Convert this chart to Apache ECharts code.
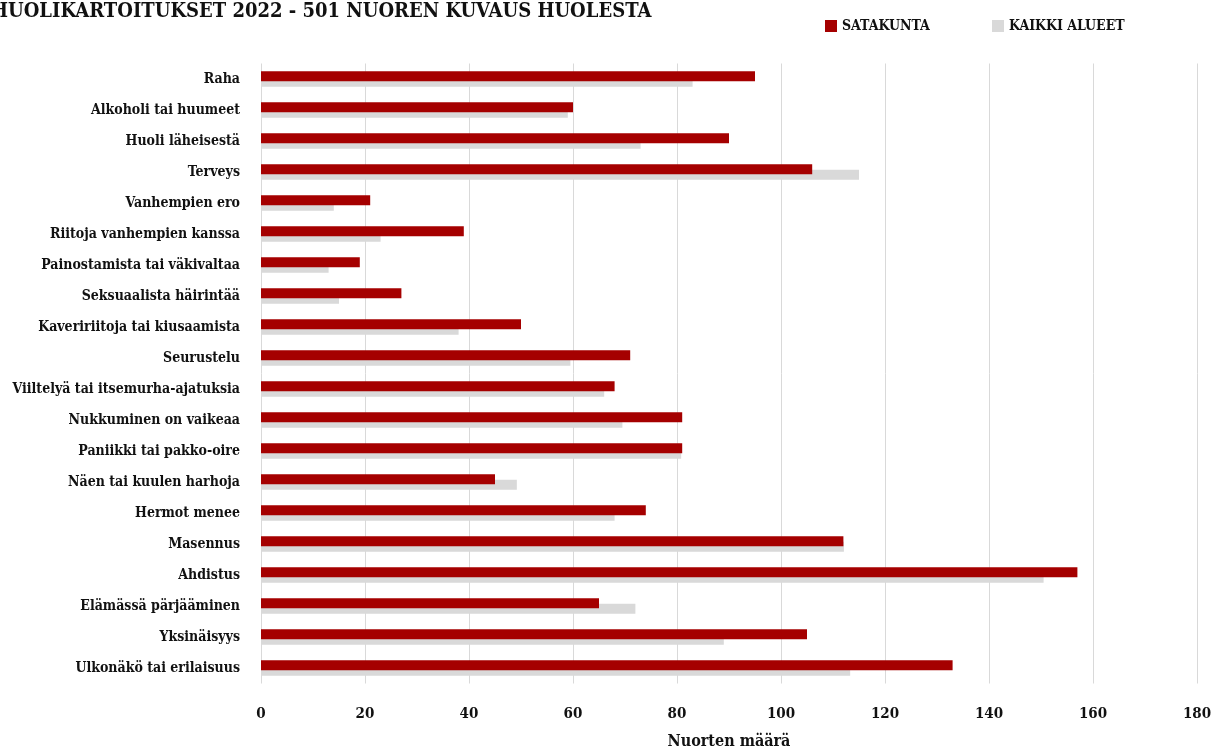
<!DOCTYPE html>
<html>
<head>
<meta charset="utf-8">
<script src="https://cdn.jsdelivr.net/npm/echarts@6/dist/echarts.min.js"></script>
<style>
html,body{margin:0;padding:0;background:#fff;}
#chart{width:1215px;height:749px;}
</style>
</head>
<body>
<div id="chart"></div>
<script>
const categories = [
  'Raha','Alkoholi tai huumeet','Huoli läheisestä','Terveys','Vanhempien ero',
  'Riitoja vanhempien kanssa','Painostamista tai väkivaltaa','Seksuaalista häirintää',
  'Kaveririitoja tai kiusaamista','Seurustelu','Viiltelyä tai itsemurha-ajatuksia',
  'Nukkuminen on vaikeaa','Paniikki tai pakko-oire','Näen tai kuulen harhoja',
  'Hermot menee','Masennus','Ahdistus','Elämässä pärjääminen','Yksinäisyys',
  'Ulkonäkö tai erilaisuus'
];
const satakunta = [95,60,90,106,21,39,19,27,50,71,68,81,81,45,74,112,157,65,105,133];
const kaikkiAlueet = [83,59,73,115,14,23,13,15,38,59.5,66,69.5,80.8,49.2,68,112.1,150.5,72,89,113.3];
const xTicks = {min:0, max:180, interval:20};

const FONT = "'DejaVu Serif Condensed', 'DejaVu Serif', serif";
const chart = echarts.init(document.getElementById('chart'));
chart.setOption({
  animation:false,
  backgroundColor:'#fff',
  title:{
    text:'HUOLIKARTOITUKSET 2022 - 501 NUOREN KUVAUS HUOLESTA',
    left:-14, top:-3,
    textStyle:{fontFamily:FONT, fontWeight:'bold', fontSize:20, color:'#111'}
  },
  legend:[
    {data:['SATAKUNTA'], left:820, top:14, itemWidth:12, itemHeight:12, icon:'rect',
     textStyle:{fontFamily:FONT, fontWeight:'bold', fontSize:14, color:'#111'}},
    {data:['KAIKKI ALUEET'], left:987, top:14, itemWidth:12, itemHeight:12, icon:'rect',
     textStyle:{fontFamily:FONT, fontWeight:'bold', fontSize:14, color:'#111'}}
  ],
  grid:{left:261, right:18, top:63.5, bottom:65.5, containLabel:false, outerBoundsMode:'none'},
  xAxis:{
    type:'value', min:xTicks.min, max:xTicks.max, interval:xTicks.interval,
    name:'Nuorten määrä', nameLocation:'middle', nameGap:50,
    nameTextStyle:{fontFamily:FONT, fontWeight:'bold', fontSize:16, color:'#111'},
    axisLine:{show:false}, axisTick:{show:false},
    axisLabel:{fontFamily:FONT, fontWeight:'bold', fontSize:15, color:'#111', margin:23},
    splitLine:{show:true, lineStyle:{color:'#d9d9d9', width:1}}
  },
  yAxis:{
    type:'category', data:categories, inverse:true,
    axisLine:{show:false}, axisTick:{show:false},
    axisLabel:{fontFamily:FONT, fontWeight:'bold', fontSize:14, color:'#111', margin:21,
               padding:[0,0,9,0]}
  },
  series:[
    {name:'SATAKUNTA', type:'bar', data:satakunta, barWidth:10, barGap:'-45%', z:3,
     itemStyle:{color:'#a50000'}},
    {name:'KAIKKI ALUEET', type:'bar', data:kaikkiAlueet, barWidth:10, z:2,
     itemStyle:{color:'#d9d9d9'}}
  ]
});
</script>
</body>
</html>
